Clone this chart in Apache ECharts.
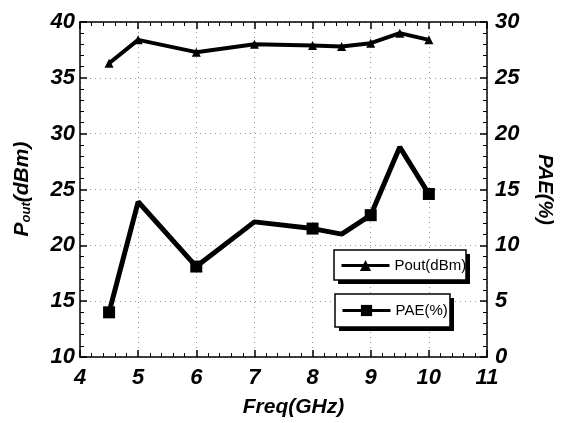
<!DOCTYPE html>
<html>
<head>
<meta charset="utf-8">
<script src="https://cdn.jsdelivr.net/npm/echarts@6/dist/echarts.min.js"></script>
<style>
html, body { margin: 0; padding: 0; background: #fff; }
#main { width: 563px; height: 423px; }
</style>
</head>
<body>
<div id="main"></div>
<script>
// frequency points (GHz)
var freq = [4.5, 5, 6, 7, 8, 8.5, 9, 9.5, 10];
// output power, left axis (dBm)
var pout = [36.3, 38.4, 37.3, 38.0, 37.9, 37.8, 38.1, 39.0, 38.4];
// power added efficiency, right axis (%)
var pae = [4.0, 13.9, 8.1, 12.1, 11.5, 11.0, 12.7, 18.8, 14.6];
// which PAE points show a square marker
var paeMark = [1, 0, 1, 0, 1, 0, 1, 0, 1];

var fontLbl = "'Liberation Sans', Arial, sans-serif";

function pairs(xs, ys, marks) {
    return xs.map(function (x, i) {
        var d = { value: [x, ys[i]] };
        if (marks && !marks[i]) d.symbol = 'none';
        return d;
    });
}

// legend frame with a hard drop shadow
function frame(x, y, w, h) {
    return [{
        type: 'rect', z: 1,
        shape: { x: x + 4, y: y + 4, width: w, height: h },
        style: { fill: '#000' }
    }, {
        type: 'rect', z: 2,
        shape: { x: x, y: y, width: w, height: h },
        style: { fill: '#fff', stroke: '#000', lineWidth: 1.5 }
    }];
}

var chart = echarts.init(document.getElementById('main'));

function tickLbl(margin) {
    return {
        margin: margin,
        fontFamily: fontLbl,
        fontWeight: 'bold',
        fontStyle: 'italic',
        fontSize: 22,
        color: '#000'
    };
}
var grid0 = { lineStyle: { color: '#999', type: [1, 4], width: 1 } };
var tick0 = { inside: true, length: 7, lineStyle: { color: '#000', width: 1.5 } };
var minor0 = { show: true, splitNumber: 5, length: 4, lineStyle: { color: '#000', width: 1 } };
var line0 = { show: true, lineStyle: { color: '#000', width: 1.5 } };
var legText = { fontFamily: fontLbl, fontSize: 15, color: '#000' };

var option = {
    animation: false,
    backgroundColor: '#fff',
    grid: { left: 80, right: 72, top: 22, bottom: 59 },
    legend: [{
        data: ['Pout(dBm)'],
        left: 340, top: 258, padding: 0, itemGap: 0, z: 10,
        itemWidth: 48, itemHeight: 14,
        lineStyle: { width: 3 },
        textStyle: legText
    }, {
        data: ['PAE(%)'],
        left: 341, top: 303, padding: 0, itemGap: 0, z: 10,
        itemWidth: 48, itemHeight: 14,
        lineStyle: { width: 3 },
        textStyle: legText
    }],
    xAxis: [{
        type: 'value', min: 4, max: 11, interval: 1,
        name: 'Freq(GHz)', nameLocation: 'middle', nameGap: 40,
        nameTextStyle: { fontFamily: fontLbl, fontWeight: 'bold', fontStyle: 'italic', fontSize: 21, color: '#000', padding: [0, 0, 0, 20] },
        axisLine: line0,
        axisTick: tick0,
        minorTick: minor0,
        axisLabel: tickLbl(10),
        splitLine: grid0
    }, {
        type: 'value', min: 4, max: 11, interval: 1, position: 'top',
        axisLine: line0,
        axisTick: tick0,
        minorTick: minor0,
        axisLabel: { show: false },
        splitLine: { show: false }
    }],
    yAxis: [{
        type: 'value', min: 10, max: 40, interval: 5,
        axisLine: line0,
        axisTick: tick0,
        minorTick: minor0,
        axisLabel: tickLbl(5),
        splitLine: grid0
    }, {
        type: 'value', min: 0, max: 30, interval: 5, position: 'right',
        name: 'PAE(%)', nameLocation: 'middle', nameGap: 48, nameRotate: -90,
        nameTextStyle: { fontFamily: fontLbl, fontWeight: 'bold', fontStyle: 'italic', fontSize: 20, color: '#000' },
        axisLine: line0,
        axisTick: tick0,
        minorTick: minor0,
        axisLabel: tickLbl(8),
        splitLine: { show: false }
    }],
    graphic: [{
        type: 'text',
        x: 21, y: 189,
        rotation: Math.PI / 2,
        style: {
            text: '{a|P}{b|out}{a|(dBm)}',
            align: 'center',
            verticalAlign: 'middle',
            fill: '#000',
            rich: {
                a: { fontFamily: fontLbl, fontWeight: 'bold', fontStyle: 'italic', fontSize: 21, lineHeight: 24, verticalAlign: 'bottom' },
                b: { fontFamily: fontLbl, fontWeight: 'bold', fontStyle: 'italic', fontSize: 13, lineHeight: 14, verticalAlign: 'bottom' }
            }
        }
    }].concat(frame(334, 250, 132, 30), frame(335, 294, 115, 33)),
    series: [{
        name: 'Pout(dBm)',
        type: 'line',
        xAxisIndex: 0, yAxisIndex: 0,
        data: pairs(freq, pout),
        symbol: 'triangle', symbolSize: 9,
        lineStyle: { color: '#000', width: 4 },
        itemStyle: { color: '#000' }
    }, {
        name: 'PAE(%)',
        type: 'line',
        xAxisIndex: 0, yAxisIndex: 1,
        data: pairs(freq, pae, paeMark),
        symbol: 'rect', symbolSize: 12,
        lineStyle: { color: '#000', width: 5 },
        itemStyle: { color: '#000' }
    }]
};

chart.setOption(option);
</script>
</body>
</html>
